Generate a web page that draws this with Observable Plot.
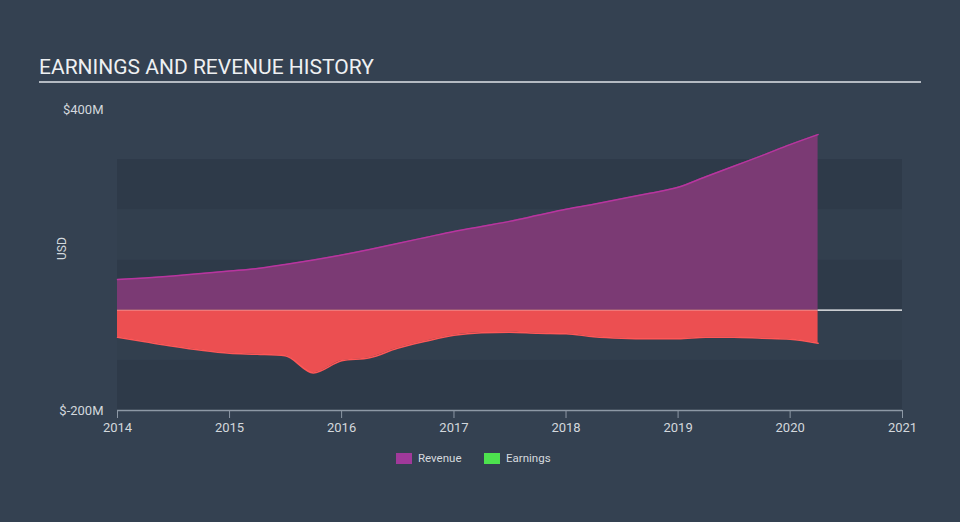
<!DOCTYPE html>
<html>
<head>
<meta charset="utf-8">
<script src="https://cdn.jsdelivr.net/npm/d3@7"></script>
<script src="https://cdn.jsdelivr.net/npm/@observablehq/plot@0.6"></script>
<style>
  html, body { margin: 0; padding: 0; background: #344151; }
  #wrap { position: relative; width: 960px; height: 522px; background: #344151; font-family: Roboto, "Open Sans", sans-serif; overflow: hidden; }
  #title { position: absolute; left: 39px; top: 55px; font-size: 21px; color: #eef0f2; white-space: nowrap; }
  #rule { position: absolute; left: 39px; top: 81px; width: 882px; height: 2px; background: #b4bac2; }
  #chart { position: absolute; left: 0; top: 0; }
  #legend { position: absolute; top: 451px; left: 0; width: 960px; font-size: 11.5px; color: #d6dadf; }
  .item { position: absolute; display: flex; align-items: center; white-space: nowrap; }
  .sw { width: 16px; height: 11px; margin-right: 6px; }
</style>
</head>
<body>
<div id="wrap">
  <div id="title">EARNINGS AND REVENUE HISTORY</div>
  <div id="rule"></div>
  <div id="chart"></div>
  <div id="legend"></div>
</div>
<script>
// ---- data (USD millions) ----
const periods = ["2014-01","2014-04","2014-07","2014-10","2015-01","2015-04","2015-07","2015-10",
                 "2016-01","2016-04","2016-07","2016-10","2017-01","2017-04","2017-07","2017-10",
                 "2018-01","2018-04","2018-07","2018-10","2019-01","2019-04","2019-07","2019-10",
                 "2020-01","2020-04"];
const revenue = [61, 64, 68, 73, 78, 83, 91, 100,
                 110, 121, 133, 145, 157, 167, 177, 189,
                 201, 211, 222, 233, 245, 266, 287, 308,
                 330, 350];
const earnings = [-54, -63, -72, -80, -86, -88, -91, -125,
                  -101, -95, -76, -62, -50, -45, -44, -46,
                  -47, -53, -56, -57, -57, -54, -54, -56,
                  -58, -66];
const yTicks = [400, -200];
const xTickYears = [2014, 2015, 2016, 2017, 2018, 2019, 2020, 2021];
const bandsDark = [[200, 300], [0, 100], [-200, -100]];
const bandsLight = [[100, 200], [-100, 0]];
const seriesNames = ["Revenue", "Earnings"];
const seriesColors = ["#a0399a", "#4de24e"];

// ---- build ----
const parse = d3.utcParse("%Y-%m");
const rows = periods.map((p, i) => ({date: parse(p), revenue: revenue[i], earnings: earnings[i]}));
const xStart = new Date(Date.UTC(xTickYears[0], 0, 1));
const xEnd = new Date(Date.UTC(xTickYears[xTickYears.length - 1], 0, 1));
const lastDate = rows[rows.length - 1].date;
const darkRows = bandsDark.map(([lo, hi]) => ({lo, hi}));
const lightRows = bandsLight.map(([lo, hi]) => ({lo, hi}));
const zeroTail = [{x1: lastDate, x2: xEnd, y: 0}];
const zeroFull = [{x1: xStart, x2: lastDate, y: 0}];

const chart = Plot.plot({
  width: 960,
  height: 522,
  marginLeft: 117,
  marginRight: 58,
  marginTop: 109,
  marginBottom: 112,
  style: {background: "transparent", fontFamily: "Roboto, 'Open Sans', sans-serif", fontSize: "13px", color: "#d3d8dd"},
  x: {type: "utc", domain: [xStart, xEnd]},
  y: {domain: [-200, 400]},
  marks: [
    Plot.rect(darkRows, {x1: () => xStart, x2: () => xEnd, y1: "lo", y2: "hi", fill: "#2e3a49"}),
    Plot.rect(lightRows, {x1: () => xStart, x2: () => xEnd, y1: "lo", y2: "hi", fill: "#323f4e"}),
    Plot.areaY(rows, {x: "date", y: "revenue", fill: "#7b3a74", curve: "monotone-x"}),
    Plot.lineY(rows, {x: "date", y: "revenue", stroke: "#b8359f", strokeWidth: 1.5, curve: "monotone-x"}),
    Plot.areaY(rows, {x: "date", y: "earnings", fill: "#ec4f51", curve: "monotone-x"}),
    Plot.lineY(rows, {x: "date", y: "earnings", stroke: "#ff5757", strokeWidth: 1.5, curve: "monotone-x"}),
    Plot.ruleY(zeroFull, {x1: "x1", x2: "x2", y: "y", stroke: "#ffffff", strokeOpacity: 0.35, strokeWidth: 1}),
    Plot.ruleY(zeroTail, {x1: "x1", x2: "x2", y: "y", stroke: "#ffffff", strokeWidth: 1.2}),
    Plot.ruleY([-200], {stroke: "#8d98a5", strokeWidth: 1.5}),
    Plot.axisX({ticks: xTickYears.map(y => new Date(Date.UTC(y, 0, 1))), tickFormat: d3.utcFormat("%Y"),
                tickSize: 8, tickPadding: 4, stroke: "#8d98a5", fill: "#d3d8dd", label: null, fontSize: 13}),
    Plot.axisY({ticks: yTicks, tickFormat: d => "$" + d + "M", tickSize: 0, tickPadding: 14,
                fill: "#d3d8dd", label: null, fontSize: 13}),
    Plot.text(["USD"], {frameAnchor: "left", dx: -55, rotate: -90, fill: "#d3d8dd", fontSize: 12})
  ]
});
document.getElementById("chart").appendChild(chart);

// legend
const legendPos = [396, 484];
const legend = document.getElementById("legend");
seriesNames.forEach((name, i) => {
  const item = document.createElement("div");
  item.className = "item";
  item.style.left = legendPos[i] + "px";
  const sw = document.createElement("span");
  sw.className = "sw";
  sw.style.background = seriesColors[i];
  item.appendChild(sw);
  item.appendChild(document.createTextNode(name));
  legend.appendChild(item);
});
</script>
</body>
</html>
